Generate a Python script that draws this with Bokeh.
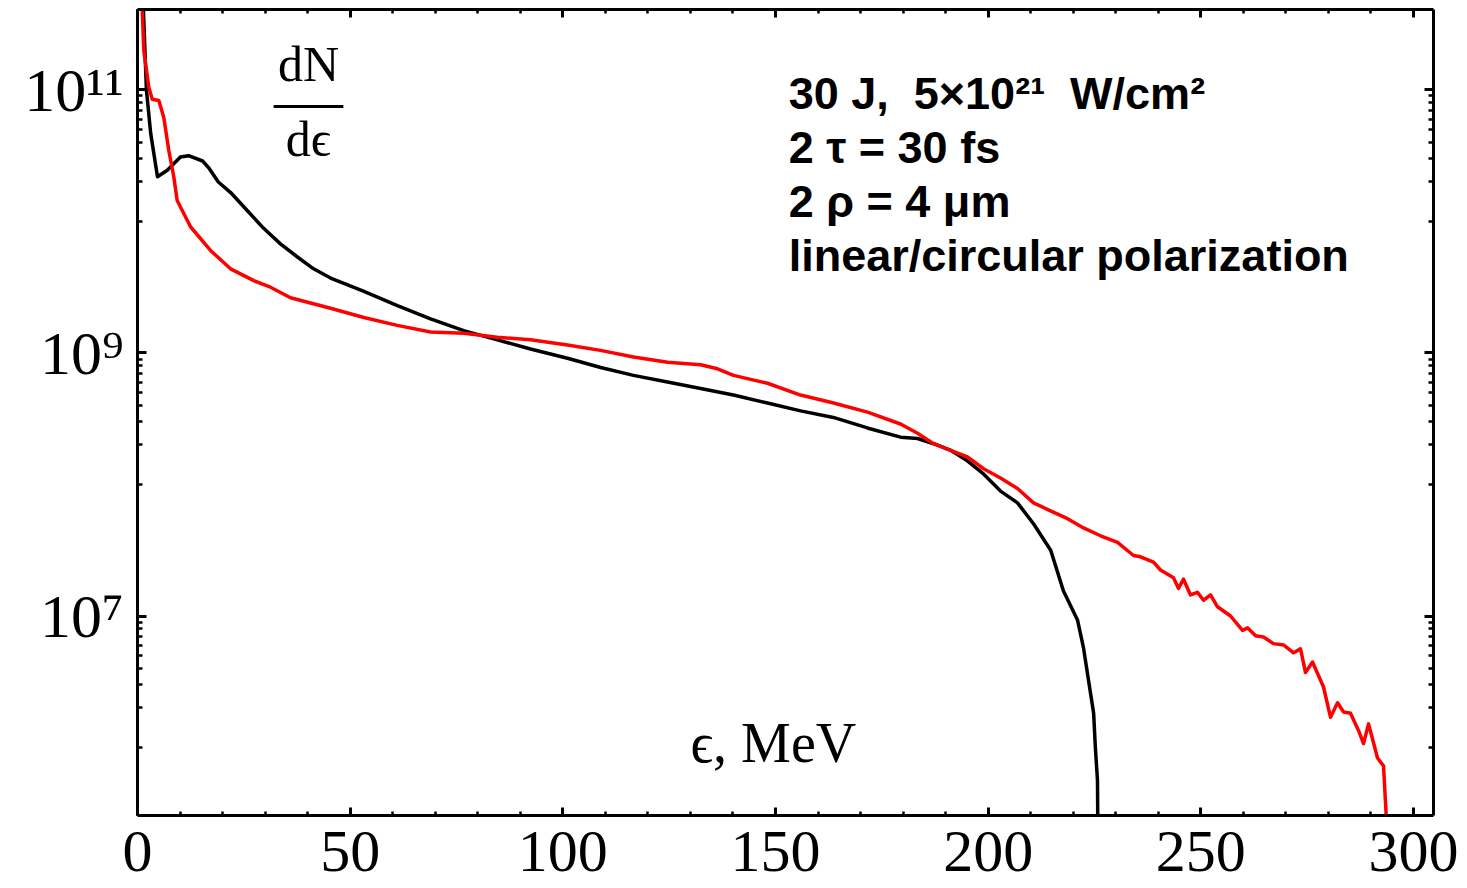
from bokeh.plotting import figure
from bokeh.models import (LinearAxis, LogAxis, FixedTicker, Range1d,
                          CustomJSTickFormatter, Label)
from bokeh.embed import file_html
from bokeh.resources import INLINE

# ---------------- data ----------------
# energy in MeV, spectrum given as log10(dN/de)
black_energy = [0.9, 1.4, 2.1, 3.1, 4.7, 7.0, 10.1, 12.0, 15.3, 16.7, 19.0, 21.9,
                25.9, 29.6, 33.6, 37.6, 41.4, 45.4, 53.1, 61.1, 68.9, 76.7, 84.6,
                92.4, 101.1, 108.9, 116.6, 124.6, 132.4, 140.1, 148.1, 155.9,
                163.6, 171.6, 179.4, 183.4, 187.2, 191.2, 195.1, 198.9, 202.9,
                206.9, 210.7, 214.7, 217.7, 221.0, 222.4, 223.6, 224.8, 225.2,
                225.7, 225.8]
black_log10 = [11.70, 11.60, 11.00, 10.67, 10.34, 10.39, 10.49, 10.50, 10.46, 10.41,
               10.30, 10.22, 10.08, 9.95, 9.83, 9.73, 9.64, 9.57, 9.47, 9.36, 9.26,
               9.17, 9.10, 9.03, 8.96, 8.89, 8.83, 8.78, 8.73, 8.68, 8.62, 8.56,
               8.51, 8.43, 8.36, 8.35, 8.31, 8.26, 8.18, 8.08, 7.95, 7.86, 7.70,
               7.50, 7.19, 6.97, 6.76, 6.51, 6.26, 6.00, 5.75, 5.30]

red_energy = [1.0, 1.11, 1.48, 2.66, 3.46, 5.01, 6.18, 7.36, 8.53, 9.33, 12.46, 17.16,
              21.87, 27.34, 31.27, 35.97, 45.38, 53.21, 61.06, 68.89, 76.72, 84.57,
              92.40, 101.10, 108.86, 116.62, 124.61, 132.37, 136.37, 140.13, 148.12,
              155.88, 163.64, 171.63, 179.39, 183.39, 187.15, 191.15, 195.14, 198.91,
              202.90, 206.90, 210.66, 214.66, 218.66, 222.42, 226.41, 230.41, 234.17,
              235.82, 238.87, 240.52, 243.58, 244.75, 245.93, 247.57, 249.22, 250.63,
              252.28, 253.92, 256.98, 259.80, 260.98, 262.86, 264.74, 267.09, 269.44,
              271.79, 273.44, 274.61, 276.26, 278.84, 280.49, 282.14, 283.55, 285.19,
              287.07, 288.25, 289.43, 291.54, 292.95, 293.89]
red_log10 = [11.75, 11.61, 11.30, 11.02, 10.93, 10.92, 10.79, 10.54, 10.34, 10.16, 9.96,
             9.78, 9.64, 9.55, 9.50, 9.42, 9.34, 9.27, 9.21, 9.16, 9.15, 9.12, 9.10,
             9.06, 9.02, 8.97, 8.93, 8.91, 8.88, 8.83, 8.77, 8.68, 8.62, 8.55, 8.46,
             8.39, 8.31, 8.26, 8.21, 8.12, 8.05, 7.97, 7.86, 7.80, 7.74, 7.67, 7.61,
             7.56, 7.46, 7.45, 7.41, 7.35, 7.29, 7.21, 7.28, 7.16, 7.18, 7.12, 7.16,
             7.07, 7.00, 6.89, 6.91, 6.85, 6.84, 6.79, 6.78, 6.72, 6.75, 6.57, 6.65,
             6.46, 6.23, 6.34, 6.27, 6.26, 6.13, 6.03, 6.18, 5.92, 5.86, 5.30]

black_values = [10 ** v for v in black_log10]
red_values = [10 ** v for v in red_log10]

x_major = [0, 50, 100, 150, 200, 250, 300]
x_minor = list(range(0, 310, 10))
y_major = [1e7, 1e9, 1e11]
y_minor = [k * 10.0 ** e for e in (6, 8, 10) for k in range(1, 10)]

NB = "\u00a0"
info_lines = ["30 J," + NB + NB + "5×10²¹" + NB + NB + "W/cm²", "2 τ = 30 fs",
              "2 ρ = 4 μm", "linear/circular polarization"]

# ---------------- figure ----------------
SERIF = "Liberation Serif"
SANS = "Liberation Sans"

p = figure(width=1467, height=888, y_axis_type="log",
           x_range=Range1d(0, 304.7), y_range=Range1d(10 ** 5.483, 10 ** 11.612),
           output_backend="svg", toolbar_location=None,
           min_border_left=137, min_border_right=34, min_border_top=9,
           min_border_bottom=73)
p.xgrid.visible = False
p.ygrid.visible = False
p.outline_line_color = None
p.background_fill_color = "white"
p.border_fill_color = "white"

sup_code = """
const sup = {'0':'⁰','1':'¹','2':'²','3':'³','4':'⁴','5':'⁵','6':'⁶','7':'⁷','8':'⁸','9':'⁹','-':'⁻'};
const e = Math.round(Math.log10(tick));
return '10' + String(e).split('').map(c => sup[c]).join('');
"""
blank = CustomJSTickFormatter(code="return '';")


def style_axis(ax, major_in, minor_in):
    ax.axis_line_width = 3
    ax.axis_line_color = "black"
    ax.major_tick_in = major_in
    ax.major_tick_out = 0
    ax.minor_tick_in = minor_in
    ax.minor_tick_out = 0
    ax.major_tick_line_width = 3
    ax.minor_tick_line_width = 2.5
    ax.major_tick_line_color = "black"
    ax.minor_tick_line_color = "black"


xax = p.xaxis[0]
xax.ticker = FixedTicker(ticks=x_major, minor_ticks=x_minor)
style_axis(xax, 8, 4)
xax.major_label_text_font = SERIF
xax.major_label_text_font_size = "60px"
xax.major_label_text_color = "black"
xax.major_label_standoff = 16

yax = p.yaxis[0]
yax.ticker = FixedTicker(ticks=y_major, minor_ticks=y_minor)
yax.formatter = CustomJSTickFormatter(code=sup_code)
style_axis(yax, 9, 5)
yax.major_label_text_font = SERIF
yax.major_label_text_font_size = "62px"
yax.major_label_text_color = "black"
yax.major_label_standoff = 14

top = LinearAxis(ticker=FixedTicker(ticks=x_major, minor_ticks=x_minor),
                 formatter=blank, major_label_text_font_size="1px",
                 major_label_standoff=0)
style_axis(top, 8, 4)
p.add_layout(top, "above")

right = LogAxis(ticker=FixedTicker(ticks=y_major, minor_ticks=y_minor),
                formatter=blank, major_label_text_font_size="1px",
                major_label_standoff=0)
style_axis(right, 9, 5)
p.add_layout(right, "right")

# ---------------- curves ----------------
p.line(black_energy, black_values, line_color="black", line_width=3.5, line_join="round")
p.line(red_energy, red_values, line_color="#ff0000", line_width=3.5, line_join="round")

# ---------------- annotations (placed by pixel row of the 888-px canvas) ----------------
Y_TOP_PX, Y_TOP_LOG, PX_PER_DECADE = 89.5, 11.0, 131.5


def y_at(px):
    return 10 ** (Y_TOP_LOG - (px - Y_TOP_PX) / PX_PER_DECADE)


frac_x = 40.2
p.add_layout(Label(x=frac_x, y=y_at(64), text="dN", text_align="center",
                   text_baseline="alphabetic", text_font=SERIF, text_font_size="50px",
                   text_color="black"))
p.add_layout(Label(x=frac_x, y=y_at(139), text="dϵ", text_align="center",
                   text_baseline="alphabetic", text_font=SERIF, text_font_size="50px",
                   text_color="black"))
p.segment(x0=[32.0], y0=[y_at(106)], x1=[48.4], y1=[y_at(106)],
          line_color="black", line_width=3)

p.add_layout(Label(x=130.0, y=y_at(742), text="ϵ, MeV", text_align="left",
                   text_baseline="alphabetic", text_font=SERIF, text_font_size="56px",
                   text_color="black"))

info_x = 153.1
info_px = [93, 147, 201, 255]
for line, py in zip(info_lines, info_px):
    p.add_layout(Label(x=info_x, y=y_at(py), text=line, text_align="left",
                       text_baseline="alphabetic", text_font=SANS,
                       text_font_size="45px", text_font_style="bold",
                       text_color="black"))

open("out.html", "w").write(file_html(p, INLINE))
